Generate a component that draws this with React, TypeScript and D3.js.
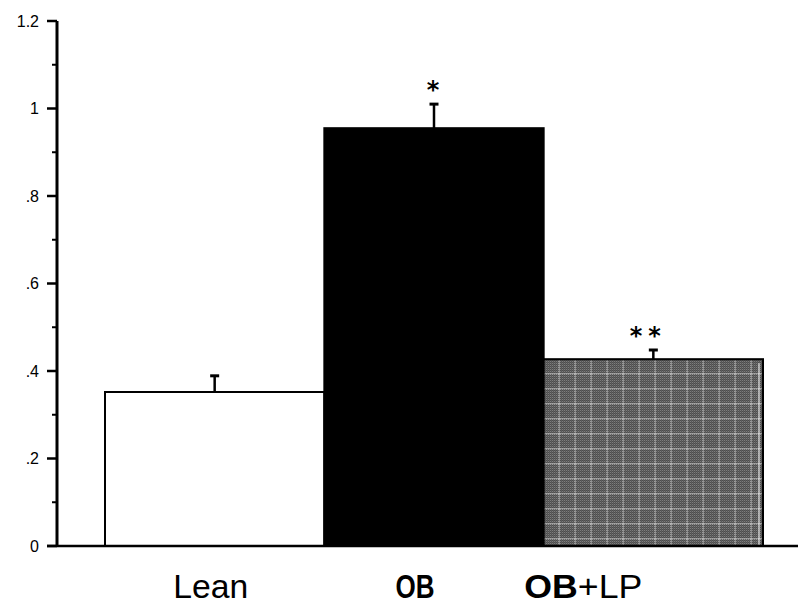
import React, { useEffect, useRef } from "react";
import * as d3 from "d3";

const categories = ["Lean", "OB", "OB+LP"];
const means = [0.352, 0.955, 0.427];
const errors = [0.037, 0.055, 0.021];
const marks = ["", "*", "**"];
const majorTicks = [0, 0.2, 0.4, 0.6, 0.8, 1.0, 1.2];
const tickLabels = ["0", ".2", ".4", ".6", ".8", "1", "1.2"];
const minorTicks = [0.1, 0.3, 0.5, 0.7, 0.9, 1.1];

function App() {
  const ref = useRef<SVGSVGElement>(null);

  useEffect(() => {
    const svg = d3.select(ref.current);
    svg.selectAll("*").remove();

    const y = d3.scaleLinear().domain([0, 1.2]).range([546, 21]);
    const x = d3.scaleBand().domain(categories).range([105, 763]).padding(0);
    const cx = (d: string) => (x(d) as number) + x.bandwidth() / 2;
    const fills = ["#fff", "#000", "url(#grid)"];

    // dithered grey with a faint light grid, like the scanned OB+LP bar
    const defs = svg.append("defs");
    const dots = defs
      .append("pattern")
      .attr("id", "dots")
      .attr("width", 2)
      .attr("height", 2)
      .attr("patternUnits", "userSpaceOnUse");
    dots.append("rect").attr("width", 2).attr("height", 2).attr("fill", "#1a1a1a");
    dots.append("rect").attr("width", 1).attr("height", 1).attr("fill", "#c4c4c4");
    dots.append("rect").attr("x", 1).attr("y", 1).attr("width", 1).attr("height", 1).attr("fill", "#858585");
    const grid = defs
      .append("pattern")
      .attr("id", "grid")
      .attr("width", 16)
      .attr("height", 15)
      .attr("patternUnits", "userSpaceOnUse")
      .attr("x", x("OB+LP"))
      .attr("y", y(means[2]));
    grid.append("rect").attr("width", 16).attr("height", 15).attr("fill", "url(#dots)");
    grid.append("rect").attr("y", 14).attr("width", 16).attr("height", 1).attr("fill", "#eee").attr("opacity", 0.5);
    grid.append("rect").attr("x", 15).attr("width", 1).attr("height", 15).attr("fill", "#eee").attr("opacity", 0.5);

    // bars
    svg
      .selectAll(".bar")
      .data(categories)
      .enter()
      .append("rect")
      .attr("class", "bar")
      .attr("x", (d) => x(d))
      .attr("y", (d, i) => y(means[i]))
      .attr("width", x.bandwidth())
      .attr("height", (d, i) => y(0) - y(means[i]))
      .attr("fill", (d, i) => fills[i])
      .attr("stroke", "#000")
      .attr("stroke-width", 2);

    // thin white line just inside the right edge of the patterned bar
    svg.append("line")
      .attr("x1", (x("OB+LP") as number) + x.bandwidth() - 4)
      .attr("x2", (x("OB+LP") as number) + x.bandwidth() - 4)
      .attr("y1", y(means[2]) + 4)
      .attr("y2", y(0) - 1)
      .attr("stroke", "#fff")
      .attr("stroke-width", 1);

    // error bars (upper only)
    const eb = svg.selectAll(".err").data(categories).enter().append("g");
    eb.append("line")
      .attr("x1", cx)
      .attr("x2", cx)
      .attr("y1", (d, i) => y(means[i]))
      .attr("y2", (d, i) => y(means[i] + errors[i]))
      .attr("stroke", "#000")
      .attr("stroke-width", 2.5);
    eb.append("line")
      .attr("x1", (d) => cx(d) - 4.5)
      .attr("x2", (d) => cx(d) + 4.5)
      .attr("y1", (d, i) => y(means[i] + errors[i]))
      .attr("y2", (d, i) => y(means[i] + errors[i]))
      .attr("stroke", "#000")
      .attr("stroke-width", 3);

    // significance stars
    svg
      .selectAll(".sig")
      .data(categories)
      .enter()
      .append("text")
      .attr("x", (d, i) => cx(d) - (marks[i].length > 1 ? 5 : 1))
      .attr("y", (d, i) => y(means[i] + errors[i]) - 6)
      .attr("text-anchor", "middle")
      .attr("font-family", "DejaVu Sans, sans-serif")
      .attr("font-weight", "bold")
      .attr("font-size", 24)
      .attr("letter-spacing", (d, i) => (marks[i].length > 1 ? 6 : 0))
      .text((d, i) => marks[i]);

    // axes
    svg.append("line")
      .attr("x1", 57).attr("x2", 57)
      .attr("y1", y(1.2)).attr("y2", y(0))
      .attr("stroke", "#000").attr("stroke-width", 3);
    svg.append("line")
      .attr("x1", 47).attr("x2", 798)
      .attr("y1", y(0)).attr("y2", y(0))
      .attr("stroke", "#000").attr("stroke-width", 2.5);
    svg.selectAll(".major")
      .data(majorTicks)
      .enter()
      .append("line")
      .attr("x1", 47).attr("x2", 57)
      .attr("y1", (d) => y(d)).attr("y2", (d) => y(d))
      .attr("stroke", "#000").attr("stroke-width", 2.5);
    svg.selectAll(".minor")
      .data(minorTicks)
      .enter()
      .append("line")
      .attr("x1", 52).attr("x2", 57)
      .attr("y1", (d) => y(d)).attr("y2", (d) => y(d))
      .attr("stroke", "#000").attr("stroke-width", 2);
    svg.selectAll(".tlab")
      .data(majorTicks)
      .enter()
      .append("text")
      .attr("x", 39)
      .attr("y", (d) => y(d))
      .attr("dy", "0.36em")
      .attr("text-anchor", "end")
      .attr("font-family", "Liberation Sans, Arial, sans-serif")
      .attr("font-size", 16)
      .text((d, i) => tickLabels[i]);

    // category labels (narrow face in the original)
    const labelShift = [-4, -19, -70];
    const labelWidth = [75, 39, 118];
    const cats = svg.selectAll(".cat")
      .data(categories)
      .enter()
      .append("text")
      .attr("x", (d, i) => cx(d) + labelShift[i])
      .attr("y", 598)
      .attr("text-anchor", "middle")
      .attr("textLength", (d, i) => labelWidth[i])
      .attr("lengthAdjust", "spacingAndGlyphs")
      .attr("font-family", "Liberation Sans, Arial, sans-serif")
      .attr("font-size", 33);
    cats.each(function (d) {
      const t = d3.select(this);
      if (d === "Lean") {
        t.append("tspan").text("Lean");
      } else {
        t.append("tspan").attr("font-weight", "bold").text("OB");
        if (d === "OB+LP") {
          t.append("tspan").text("+LP");
        }
      }
    });
  }, []);

  return (
    <svg
      ref={ref}
      width="798"
      height="612"
      style={{ position: "absolute", left: 0, top: 0, background: "#fff" }}
    ></svg>
  );
}

export default App;
